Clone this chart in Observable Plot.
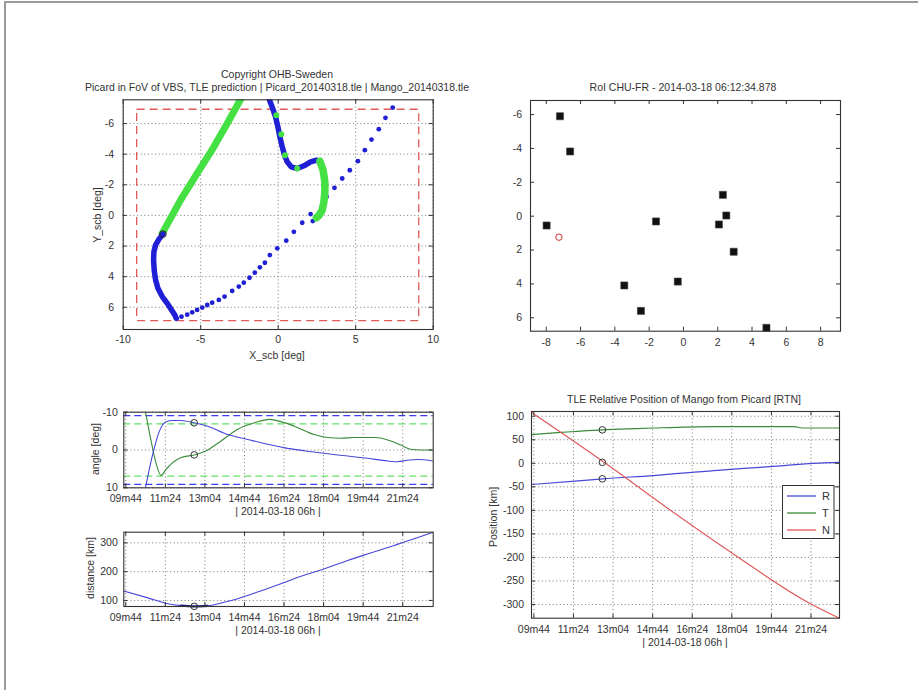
<!DOCTYPE html>
<html><head><meta charset="utf-8">
<script src="https://cdn.jsdelivr.net/npm/d3@7"></script>
<script src="https://cdn.jsdelivr.net/npm/@observablehq/plot@0.6"></script>
<style>
body{margin:0;background:#fff;}
#page{position:relative;width:918px;height:690px;overflow:hidden;background:#fff;font-family:"Liberation Sans",Arial,sans-serif;color:#333;}
#border{position:absolute;left:4px;top:1px;width:930px;height:700px;border-left:2px solid #9a9a9a;border-top:2px solid #9a9a9a;}
.t{position:absolute;white-space:nowrap;font-size:10.5px;color:#333;transform:translate(-50%,-50%);line-height:1;}
.r{transform:translate(-50%,-50%) rotate(-90deg);}
</style></head><body><div id="page"><div id="border"></div></div>
<script>
// ---------- DATA ----------
// FoV half-angles (deg)
const fovHalfX = 9.1;
const fovHalfY = 6.9;

// Panel 1: Picard in FoV (X_scb, Y_scb)
const greenLeftX = [-7.48, -6.3, -5.23, -4.15, -3.29, -2.43, -2.3];
const greenLeftY = [1.17, -1.0, -2.74, -4.48, -6.0, -7.57, -7.8];
const blueTopX = [-0.68, -0.6, -0.39, -0.17, -0.02, 0.11, 0.26, 0.41, 0.58, 0.84, 1.23, 1.66, 2.09, 2.47, 2.73];
const blueTopY = [-7.85, -7.63, -7.08, -6.43, -5.78, -5.13, -4.48, -3.93, -3.5, -3.17, -3.06, -3.24, -3.5, -3.61, -3.5];
const greenMarkX = [-0.12, 0.2, 0.44, 1.23];
const greenMarkY = [-6.54, -5.3, -3.93, -3.07];
const greenHookX = [2.69, 2.9, 3.01, 3.01, 2.95, 2.84, 2.62, 2.47];
const greenHookY = [-3.54, -2.95, -2.19, -1.54, -0.89, -0.35, 0.02, 0.15];
const blueLeftX = [-7.44, -7.7, -7.91, -8.02, -8.04, -8.0, -7.91, -7.76, -7.48, -7.16, -6.88, -6.67, -6.58];
const blueLeftY = [1.22, 1.57, 1.93, 2.37, 2.91, 3.57, 4.22, 4.76, 5.3, 5.74, 6.17, 6.5, 6.72];
const blueDotX = [-6.24,-5.87,-5.55,-5.23,-4.9,-4.58,-4.26,-3.83,-3.46,-2.97,-2.54,-2.22,-1.85,-1.51,-1.18,-0.86,-0.54,-0.06,0.52,1.01,1.55,2.09,2.23,2.84,3.12,3.63,4.13,4.62,5.14,5.59,6.02,6.49,6.92,7.39];
const blueDotY = [6.61,6.48,6.33,6.17,6.02,5.85,5.7,5.52,5.3,4.93,4.65,4.39,4.07,3.74,3.39,3.09,2.59,2.15,1.65,1.07,0.48,-0.09,0.37,-0.24,-1.22,-1.8,-2.41,-2.95,-3.54,-4.26,-4.95,-5.63,-6.37,-7.04];
const nowX = [-7.44];
const nowY = [1.22];

// Panel 2: RoI stars and target
const starX = [-7.2, -6.61, -7.98, -1.6, 2.3, 2.5, 2.07, 2.93, -0.33, -3.45, -2.48, 4.84];
const starY = [-5.9, -3.82, 0.55, 0.31, -1.26, -0.04, 0.49, 2.1, 3.86, 4.09, 5.59, 6.59];
const targetX = [-7.26];
const targetY = [1.24];

// Time axis (seconds after 06h)
const tickSecs = [584, 684, 784, 884, 984, 1084, 1184, 1284];
const tickLabels = ["09m44", "11m24", "13m04", "14m44", "16m24", "18m04", "19m44", "21m24"];
const markTime = 757;

// Panel 3: angles
const angXT = [633, 652, 669, 686, 703, 724, 757, 791, 842, 892, 943, 993, 1060, 1145, 1195, 1246, 1271, 1296, 1321, 1361];
const angXV = [10.4, 1.15, -5.0, -7.5, -7.8, -7.8, -7.2, -6.3, -4.1, -2.8, -1.5, -0.44, 0.53, 1.6, 2.2, 2.9, 3.1, 2.7, 2.5, 2.9];
const angYT = [633, 648, 660, 673, 686, 703, 724, 757, 791, 825, 867, 909, 947, 976, 1010, 1060, 1094, 1128, 1161, 1212, 1254, 1279, 1304, 1330, 1361];
const angYV = [-10.6, -2.4, 3.3, 6.7, 5.1, 3.3, 2.0, 1.3, 0, -2.4, -5.5, -7.2, -8.1, -7.5, -6.3, -4.1, -3.3, -3.1, -3.3, -3.3, -2.4, -1.3, -0.2, 0, 0];
const angMark = [-7.2, 1.3];

// Panel 4: distance
const distT = [579, 640, 690, 724, 757, 791, 825, 867, 917, 976, 1027, 1086, 1145, 1203, 1262, 1313, 1361];
const distV = [133, 109, 88.4, 82, 79.5, 81, 91, 106, 129, 158, 184, 210, 239, 265, 291, 314, 337];
const distMark = 79.5;

// Panel 5: RTN
const rtnNames = ["R", "T", "N"];
const rT = [578, 688, 757, 886, 1039, 1182, 1291, 1356];
const rV = [-45, -38, -33, -26, -15.4, -7, 0, 2];
const tT = [578, 643, 688, 757, 820, 886, 1039, 1241, 1262, 1356];
const tV = [61, 65, 67.5, 71, 73, 75, 78, 78, 75, 75];
const nT = [578, 765, 921, 1087, 1278, 1356];
const nV = [108, 0, -95, -192, -296, -329];
const rtnMark = [-33, 71, 2];

// ---------- DRAWING ----------
const page = document.getElementById("page");
const FONT = '"Liberation Sans", Arial, sans-serif';
const zip = (xs, ys) => xs.map((x, i) => ({x, y: ys[i]}));
const fmt = d => String(d);
const timeFmt = d => tickLabels[tickSecs.indexOf(d)];

const BLUE = "#1f1fd6", GREEN = "#44e044", RED = "#e05a5a";
const LBLUE = "#4646d8", DGREEN = "#3a8c3a";

function panel(o) {
  const fw = o.width - o.ml - o.mr, fh = o.height - o.mt - o.mb;
  const tk = 4;
  const grid = {stroke: "#444", strokeOpacity: 0.8, strokeDasharray: "1,2.6", strokeWidth: 0.9};
  const marks = [];
  if (o.grid) {
    marks.push(Plot.ruleX(o.xTicks, {x: d => d, ...grid}));
    marks.push(Plot.ruleY(o.yTicks, {y: d => d, ...grid}));
  }
  marks.push(...o.marks);
  const ts = {stroke: "#333", strokeWidth: 1};
  marks.push(Plot.ruleX(o.xTicks, {x: d => d, insetTop: fh - tk, ...ts}));
  marks.push(Plot.ruleX(o.xTicks, {x: d => d, insetBottom: fh - tk, ...ts}));
  marks.push(Plot.ruleY(o.yTicks, {y: d => d, insetRight: fw - tk, ...ts}));
  marks.push(Plot.ruleY(o.yTicks, {y: d => d, insetLeft: fw - tk, ...ts}));
  marks.push(Plot.frame({stroke: "#333", strokeWidth: 1.1}));
  const svg = Plot.plot({
    width: o.width, height: o.height,
    marginLeft: o.ml, marginRight: o.mr, marginTop: o.mt, marginBottom: o.mb,
    style: {fontFamily: FONT, fontSize: "10.5px", color: "#333", background: "transparent"},
    x: {domain: o.xDomain, ticks: o.xTicks, tickFormat: o.xFormat, tickSize: 0, tickPadding: o.xPad, label: null},
    y: {domain: o.yDomain, reverse: o.yReverse, ticks: o.yTicks, tickFormat: o.yFormat, tickSize: 0, tickPadding: o.yPad, label: null},
    marks
  });
  svg.style.position = "absolute";
  svg.style.left = o.left + "px";
  svg.style.top = o.top + "px";
  page.appendChild(svg);
}

function text(str, x, y, rot) {
  const d = document.createElement("div");
  d.className = "t" + (rot ? " r" : "");
  d.style.left = x + "px";
  d.style.top = y + "px";
  d.textContent = str;
  page.appendChild(d);
}

// Panel 1
panel({
  left: 40, top: 60, width: 420, height: 310, ml: 82.7, mr: 27.3, mt: 39.3, mb: 41,
  xDomain: [-10, 10], yDomain: [-7.55, 7.45], yReverse: true,
  xTicks: [-10, -5, 0, 5, 10], yTicks: [-6, -4, -2, 0, 2, 4, 6],
  xFormat: fmt, yFormat: fmt, xPad: 6.5, yPad: 9, grid: true,
  marks: [
    Plot.rect([{hx: fovHalfX, hy: fovHalfY}], {x1: d => -d.hx, x2: d => d.hx, y1: d => -d.hy, y2: d => d.hy,
      fill: "none", stroke: RED, strokeDasharray: "8,5", strokeWidth: 1.3}),
    Plot.line(zip(greenLeftX, greenLeftY), {x: "x", y: "y", stroke: GREEN, strokeWidth: 7, strokeLinecap: "round", clip: true}),
    Plot.line(zip(blueTopX, blueTopY), {x: "x", y: "y", stroke: BLUE, strokeWidth: 5.5, strokeLinecap: "round", strokeLinejoin: "round", clip: true}),
    Plot.dot(zip(greenMarkX, greenMarkY), {x: "x", y: "y", r: 3, fill: GREEN}),
    Plot.line(zip(blueLeftX, blueLeftY), {x: "x", y: "y", stroke: BLUE, strokeWidth: 5.5, strokeLinecap: "round", strokeLinejoin: "round"}),
    Plot.dot(zip(blueDotX, blueDotY), {x: "x", y: "y", r: 2.4, fill: BLUE}),
    Plot.line(zip(greenHookX, greenHookY), {x: "x", y: "y", stroke: GREEN, strokeWidth: 7.5, strokeLinecap: "round", strokeLinejoin: "round"}),
    Plot.dot(zip(nowX, nowY), {x: "x", y: "y", r: 3.3, stroke: "#222", fill: "none", strokeWidth: 1})
  ]
});
text("Copyright OHB-Sweden", 277, 73.5);
text("Picard in FoV of VBS, TLE prediction | Picard_20140318.tle | Mango_20140318.tle", 277, 87);
text("X_scb [deg]", 277, 355);
text("Y_scb [deg]", 97, 215, true);

// Panel 2
panel({
  left: 460, top: 60, width: 400, height: 300, ml: 70, mr: 20, mt: 40, mb: 29.3,
  xDomain: [-8.92, 9.16], yDomain: [-6.83, 6.79], yReverse: true,
  xTicks: [-8, -6, -4, -2, 0, 2, 4, 6, 8], yTicks: [-6, -4, -2, 0, 2, 4, 6],
  xFormat: fmt, yFormat: fmt, xPad: 7, yPad: 8.5, grid: false,
  marks: [
    Plot.dot(zip(starX, starY), {x: "x", y: "y", symbol: "square", r: 4, fill: "#111", stroke: "#444", strokeWidth: 0.6}),
    Plot.dot(zip(targetX, targetY), {x: "x", y: "y", r: 3.2, stroke: "#d83030", fill: "none", strokeWidth: 1})
  ]
});
text("RoI CHU-FR - 2014-03-18 06:12:34.878", 683, 87);

// Panel 3
panel({
  left: 40, top: 390, width: 420, height: 135, ml: 83.3, mr: 27.3, mt: 21.7, mb: 37.7,
  xDomain: [579, 1361], yDomain: [-10, 10], yReverse: true,
  xTicks: tickSecs, yTicks: [-10, 0, 10],
  xFormat: timeFmt, yFormat: fmt, xPad: 7, yPad: 6, grid: true,
  marks: [
    Plot.ruleY([-fovHalfX, fovHalfX], {y: d => d, stroke: "#3c3cf0", strokeDasharray: "7,4", strokeWidth: 1.3}),
    Plot.ruleY([-fovHalfY, fovHalfY], {y: d => d, stroke: "#66e066", strokeDasharray: "7,4", strokeWidth: 1.3}),
    Plot.line(zip(angYT, angYV), {x: "x", y: "y", stroke: DGREEN, strokeWidth: 1.1, curve: "monotone-x", clip: true}),
    Plot.line(zip(angXT, angXV), {x: "x", y: "y", stroke: LBLUE, strokeWidth: 1.1, curve: "monotone-x", clip: true}),
    Plot.dot(angMark, {x: () => markTime, y: d => d, r: 3.3, stroke: "#333", fill: "none", strokeWidth: 1})
  ]
});
text("angle [deg]", 95, 449, true);
text("| 2014-03-18 06h |", 278, 511);

// Panel 4
panel({
  left: 40, top: 515, width: 420, height: 130, ml: 83.3, mr: 27.3, mt: 16.7, mb: 39,
  xDomain: [579, 1361], yDomain: [79, 337], yReverse: false,
  xTicks: tickSecs, yTicks: [100, 200, 300],
  xFormat: timeFmt, yFormat: fmt, xPad: 7, yPad: 6, grid: true,
  marks: [
    Plot.line(zip(distT, distV), {x: "x", y: "y", stroke: LBLUE, strokeWidth: 1.1, curve: "monotone-x"}),
    Plot.line(zip(distT, distV).filter(d => d.x >= 724 && d.x <= 791), {x: "x", y: "y", stroke: "#22227a", strokeWidth: 2.2, curve: "monotone-x"}),
    Plot.dot([distMark], {x: () => markTime, y: d => d, r: 3.3, stroke: "#333", fill: "none", strokeWidth: 1})
  ]
});
text("distance [km]", 90, 568, true);
text("| 2014-03-18 06h |", 278, 630);

// Panel 5
const rtnColors = ["#4848d8", "#3a8c3a", "#e05a5a"];
panel({
  left: 460, top: 380, width: 400, height: 275, ml: 71, mr: 21, mt: 31, mb: 37.3,
  xDomain: [578, 1356], yDomain: [-329, 110], yReverse: false,
  xTicks: tickSecs, yTicks: [100, 50, 0, -50, -100, -150, -200, -250, -300],
  xFormat: timeFmt, yFormat: fmt, xPad: 7, yPad: 7.5, grid: true,
  marks: [
    Plot.line(zip(rT, rV), {x: "x", y: "y", stroke: rtnColors[0], strokeWidth: 1.2, curve: "monotone-x"}),
    Plot.line(zip(tT, tV), {x: "x", y: "y", stroke: rtnColors[1], strokeWidth: 1.2, curve: "monotone-x"}),
    Plot.line(zip(nT, nV), {x: "x", y: "y", stroke: rtnColors[2], strokeWidth: 1.2, curve: "monotone-x"}),
    Plot.dot(rtnMark, {x: () => markTime, y: d => d, r: 3.3, stroke: "#333", fill: "none", strokeWidth: 1})
  ]
});
text("TLE Relative Position of Mango from Picard [RTN]", 684, 399);
text("Position [km]", 493, 517, true);
text("| 2014-03-18 06h |", 685, 641.5);

// Legend for panel 5
const lg = document.createElementNS("http://www.w3.org/2000/svg", "svg");
lg.setAttribute("width", 53); lg.setAttribute("height", 55);
lg.style.position = "absolute"; lg.style.left = "782px"; lg.style.top = "485px";
let inner = '<rect x="0.5" y="0.5" width="51.5" height="53" fill="#fff" stroke="#333" stroke-width="1"/>';
rtnNames.forEach((n, i) => {
  const y = 11 + i * 17;
  inner += `<line x1="5" x2="34" y1="${y}" y2="${y}" stroke="${rtnColors[i]}" stroke-width="1.3"/>`;
  inner += `<text x="40" y="${y + 4}" font-family='${FONT}' font-size="11" fill="#333">${n}</text>`;
});
lg.innerHTML = inner;
page.appendChild(lg);
</script></body></html>
